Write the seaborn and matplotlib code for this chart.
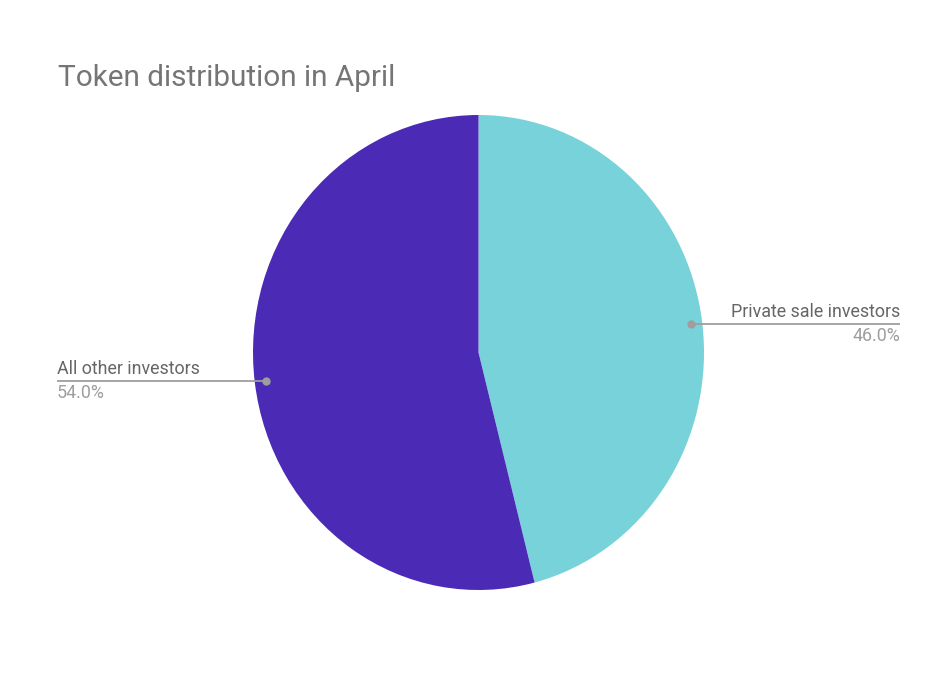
"""
Token distribution in April - pie chart with side call-out labels.
"""

import numpy as np
import matplotlib
matplotlib.use("Agg")
import matplotlib.pyplot as plt
import seaborn as sns

# ── Data ──────────────────────────────────────────────────────────────────────
labels = ["Private sale investors", "All other investors"]
shares = [46.0, 54.0]
colors = ["#78D2D9", "#4B2AB5"]

TITLE = "Token distribution in April"

# ── Style ─────────────────────────────────────────────────────────────────────
sns.set_theme(style="white")
plt.rcParams["font.family"] = ["Roboto", "DejaVu Sans"]

W, H = 948, 674
fig = plt.figure(figsize=(W / 100, H / 100), dpi=100)
fig.patch.set_facecolor("white")

# pie box in pixels (left, right, top, bottom)
px_l, px_r, px_t, px_b = 253, 704, 115, 590
ax = fig.add_axes([px_l / W, 1 - px_b / H, (px_r - px_l) / W, (px_b - px_t) / H])

wedges, _ = ax.pie(
    shares,
    colors=colors,
    startangle=90,
    counterclock=False,
    radius=1,
    wedgeprops={"linewidth": 0},
)
ax.set_aspect("auto")
ax.set_xlim(-1, 1)
ax.set_ylim(-1, 1)
ax.axis("off")

# ── Call-out labels ───────────────────────────────────────────────────────────
LINE_COL = "#9E9E9E"
LABEL_COL = "#666666"
PCT_COL = "#9E9E9E"
TEXT_X = 1.869

for w, lab, val in zip(wedges, labels, shares):
    mid = np.deg2rad((w.theta1 + w.theta2) / 2)
    x0, y0 = 0.95 * np.cos(mid), 0.95 * np.sin(mid)
    side = 1 if x0 > 0 else -1
    x1 = side * TEXT_X
    ax.plot([x0, x1], [y0, y0], color=LINE_COL, lw=1.3, clip_on=False,
            solid_capstyle="butt", zorder=3)
    ax.plot([x0], [y0], marker="o", ms=5, color=LINE_COL, clip_on=False, zorder=4)
    ha = "right" if side > 0 else "left"
    ax.annotate(lab, (x1, y0), xytext=(0, 2), textcoords="offset points",
                ha=ha, va="bottom", fontsize=12.9, color=LABEL_COL,
                annotation_clip=False)
    ax.annotate(f"{val:.1f}%", (x1, y0), xytext=(0, -2), textcoords="offset points",
                ha=ha, va="top", fontsize=12.9, color=PCT_COL,
                annotation_clip=False)

fig.text(58 / W, 1 - 78 / H, TITLE, fontsize=21.4, color="#757575",
         ha="left", va="center")

fig.savefig("out.png", dpi=100, facecolor="white")
